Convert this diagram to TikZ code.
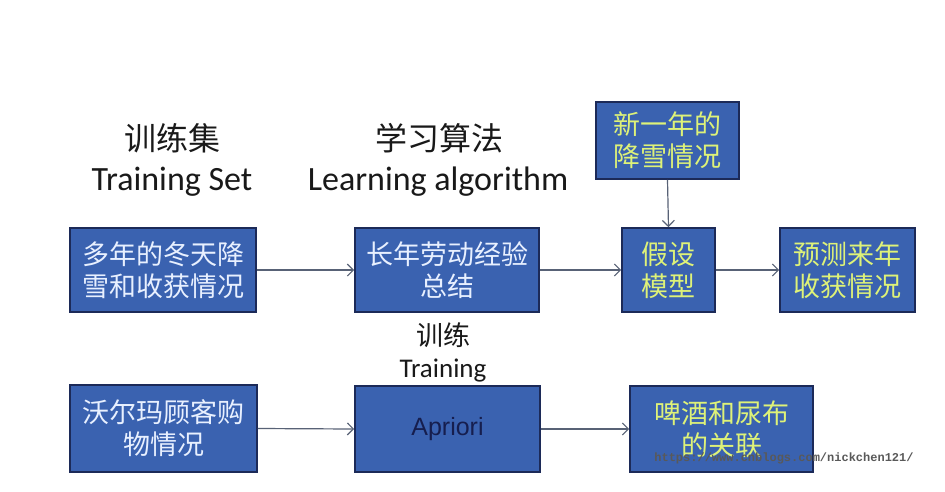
\documentclass[tikz,border=0pt]{standalone}
\usepackage{fontspec}
\setmainfont{Carlito}
\newfontfamily\cjk{Noto Sans CJK SC}
\newfontfamily\lsans{Liberation Sans}
\newfontfamily\wmfont{Liberation Mono}
\usetikzlibrary{arrows.meta}
\definecolor{boxfill}{RGB}{58,98,176}
\definecolor{boxline}{RGB}{28,42,88}
\definecolor{txtwhite}{RGB}{232,240,255}
\definecolor{txtyellow}{RGB}{222,242,120}
\definecolor{txtnavy}{RGB}{22,30,78}
\definecolor{arrowcol}{RGB}{88,98,118}
\definecolor{headcol}{RGB}{25,25,25}
\begin{document}
\begin{tikzpicture}[x=1pt,y=-1pt,
  box/.style={draw=boxline,line width=1.6pt,fill=boxfill,rectangle,inner sep=0pt,
    align=center,font=\cjk\fontsize{27}{32}\selectfont},
  wtext/.style={text=txtwhite},
  ytext/.style={text=txtyellow},
  head/.style={text=headcol,inner sep=0pt,font=\fontsize{34}{40}\selectfont},
  headcjk/.style={text=headcol,inner sep=0pt,font=\cjk\fontsize{32}{38}\selectfont},
  subhead/.style={text=headcol,inner sep=0pt,font=\fontsize{27}{32}\selectfont},
  subheadcjk/.style={text=headcol,inner sep=0pt,font=\cjk\fontsize{27}{32}\selectfont},
  conn/.style={draw=arrowcol,line width=1.2pt,-{Straight Barb[length=6pt,width=12pt,line width=1.2pt]}},
  wmark/.style={inner sep=0pt,font=\wmfont\bfseries\fontsize{12}{14}\selectfont}
]
\useasboundingbox[fill=white] (0,0) rectangle (945,491);

% headings
\node[headcjk] (h1c) at (172,138) {训练集};
\node[head] (h1e) at (172,182) {Training Set};
\node[headcjk] (h2c) at (439,138) {学习算法};
\node[head] (h2e) at (438,182) {Learning algorithm};
\node[subheadcjk] (h3c) at (443,335) {训练};
\node[subhead] (h3e) at (443,371) {Training};

% top row
\node[box,wtext,minimum width=186pt,minimum height=84pt] (a) at (163,270) {多年的冬天降\\雪和收获情况};
\node[box,wtext,minimum width=184pt,minimum height=84pt] (b) at (447,270) {长年劳动经验\\总结};
\node[box,ytext,minimum width=93pt,minimum height=84pt] (hyp) at (668.5,270) {假设\\模型};
\node[box,ytext,minimum width=143pt,minimum height=77pt] (new) at (667.5,140.5) {新一年的\\降雪情况};
\node[box,ytext,minimum width=135pt,minimum height=84pt] (pred) at (847.5,270) {预测来年\\收获情况};

% bottom row
\node[box,wtext,minimum width=187pt,minimum height=87pt] (c) at (163.5,428.5) {沃尔玛顾客购\\物情况};
\node[box,minimum width=185pt,minimum height=86pt,text=txtnavy,font=\lsans\fontsize{25}{30}\selectfont] (apr) at (447.5,429) {Apriori};
\node[box,ytext,minimum width=183pt,minimum height=86pt] (beer) at (721.5,429) {啤酒和尿布\\的关联};

% connectors
\draw[conn] (a.east) -- (b.west);
\draw[conn] (b.east) -- (hyp.west);
\draw[conn] (hyp.east) -- (pred.west);
\draw[conn] (new.south) -- (hyp.north);
\draw[conn] (c.east) -- (apr.west);
\draw[conn] (apr.east) -- (beer.west);

% watermark
\node[wmark,text=black!65] (wm) at (784,458) {https://www.cnblogs.com/nickchen121/};
\end{tikzpicture}
\end{document}
